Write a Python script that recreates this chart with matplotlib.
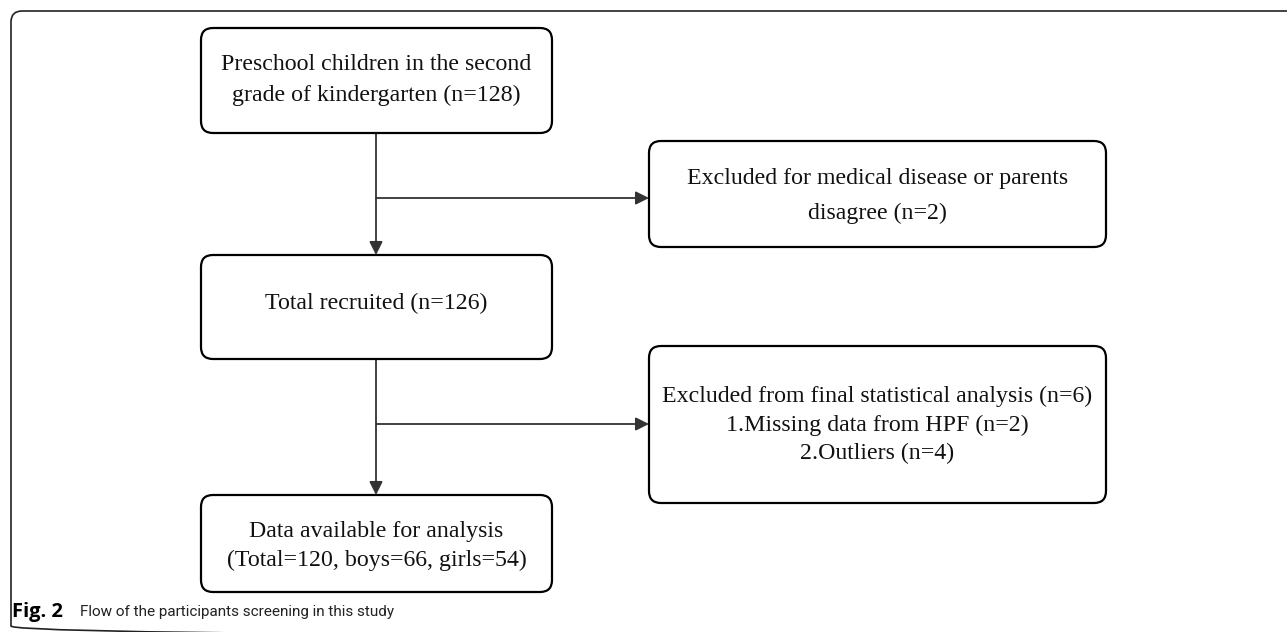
"""Participant screening flow chart (Fig. 2)

Output: out.png
"""
import matplotlib.pyplot as plt
from matplotlib.patches import FancyBboxPatch, FancyArrowPatch

plt.rcParams["font.family"] = ["Liberation Serif", "DejaVu Serif"]

# Flow contents
MAIN_LABELS = [
    "Preschool children in the second\ngrade of kindergarten (n=128)",
    "Total recruited (n=126)",
    "Data available for analysis\n(Total=120, boys=66, girls=54)",
]
SIDE_LABELS = [
    "Excluded for medical disease or parents\ndisagree (n=2)",
    "Excluded from final statistical analysis (n=6)\n"
    "1.Missing data from HPF (n=2)\n2.Outliers (n=4)",
]
CAPTION_BOLD = "Fig. 2"
CAPTION = "Flow of the participants screening in this study"

W, H = 1287, 632
fig = plt.figure(figsize=(W / 100, H / 100), dpi=100)
ax = fig.add_axes([0, 0, 1, 1])
ax.set_xlim(0, W)
ax.set_ylim(H, 0)
ax.axis("off")

# outer frame (opens to the right / bottom edge)
ax.add_patch(FancyBboxPatch((11, 11), 1400, 626,
                            boxstyle="round,pad=0,rounding_size=11",
                            linewidth=1.2, edgecolor="#222222",
                            facecolor="none", clip_on=False))

# (x0, y0, x1, y1, text_y) in pixels
main_boxes = [(201, 28, 552, 133, 80), (201, 255, 552, 359, 303),
              (201, 495, 552, 592, 546)]
side_boxes = [(649, 141, 1106, 247, 196), (649, 346, 1106, 503, 425)]
line_sp = [1.6, 1.5, 1.5]
side_sp = [1.9, 1.45]


def draw_box(x0, y0, x1, y1, ty, label, ls):
    ax.add_patch(FancyBboxPatch((x0, y0), x1 - x0, y1 - y0,
                                boxstyle="round,pad=0,rounding_size=12",
                                linewidth=1.6, edgecolor="black",
                                facecolor="white", zorder=2))
    ax.text((x0 + x1) / 2, ty, label, ha="center", va="center",
            fontsize=17.2, linespacing=ls, color="#111111", zorder=3)


for b, lab, ls in zip(main_boxes, MAIN_LABELS, line_sp):
    draw_box(*b, lab, ls)
for b, lab, ls in zip(side_boxes, SIDE_LABELS, side_sp):
    draw_box(*b, lab, ls)

cx = 376
arrow_kw = dict(arrowstyle="-|>", mutation_scale=20, linewidth=1.3,
                color="#333333", shrinkA=0, shrinkB=0, zorder=1)
for top, bot, side, hy in [(main_boxes[0], main_boxes[1], side_boxes[0], 198),
                           (main_boxes[1], main_boxes[2], side_boxes[1], 424)]:
    ax.add_patch(FancyArrowPatch((cx, top[3]), (cx, bot[1]), **arrow_kw))
    ax.add_patch(FancyArrowPatch((cx, hy), (side[0], hy), **arrow_kw))

# caption
ax.text(12, 612, CAPTION_BOLD, ha="left", va="center", fontsize=14.5,
        fontweight="bold", family=["Open Sans", "DejaVu Sans"])
ax.text(80, 612, CAPTION, ha="left", va="center", fontsize=11.0,
        family=["Roboto", "DejaVu Sans"], color="#222222")

fig.savefig("out.png", dpi=100, facecolor="white")
